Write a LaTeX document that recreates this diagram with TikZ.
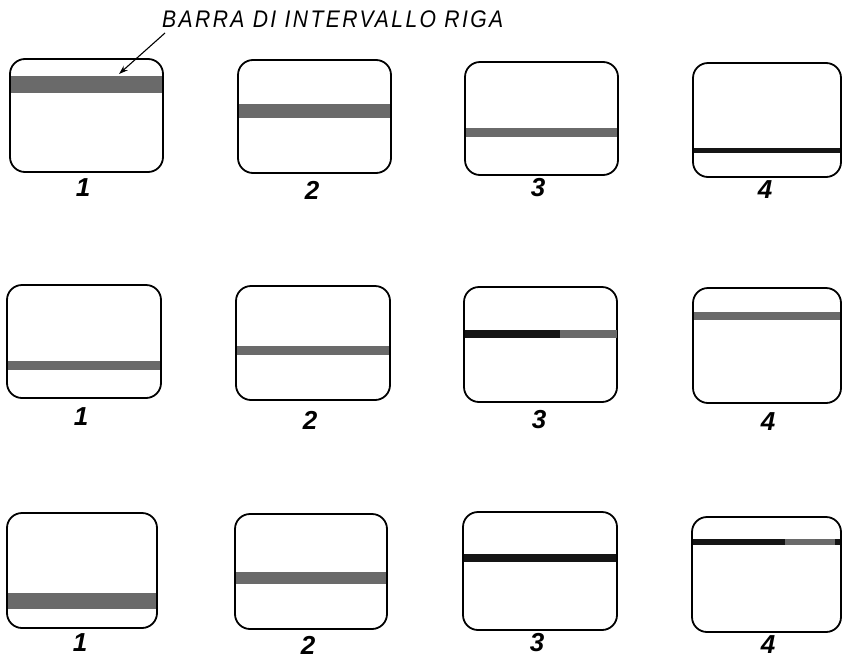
\documentclass[tikz,border=0pt]{standalone}
\usepackage{fontspec}
\setmainfont{Liberation Sans}
\usetikzlibrary{arrows.meta}
\definecolor{bargray}{HTML}{6A6A6A}
\definecolor{barblack}{HTML}{151515}
\tikzset{
  screenbox/.style={draw=black, line width=1.8pt, rounded corners=15pt},
  barfill/.style={fill=#1, draw=none},
  numlabel/.style={font=\fontsize{26}{28}\selectfont\bfseries\itshape, inner sep=0pt},
  titlelabel/.style={font=\fontsize{24}{26}\selectfont\itshape\addfontfeatures{FakeStretch=0.88,LetterSpace=10}, inner sep=0pt},
  pointer/.style={line width=1.1pt, -{Stealth[length=9pt,width=6pt]}}
}
\begin{document}
\begin{tikzpicture}[x=1pt,y=-1pt]
\useasboundingbox (0,0) rectangle (843,659);
% name, x1, y1, x2, y2, bar top, bar bottom, colour, label, label x, label y
\foreach \n/\xa/\ya/\xb/\yb/\bt/\bb/\col/\lab/\lx/\ly in {
  a1/10/59/163/172/76/93/bargray/1/83/188,
  a2/238/60/391/173/104/118/bargray/2/312/190,
  a3/465/62/618/175/128/137/bargray/3/538/188,
  a4/693/63/841/177/148/153/barblack/4/765/190,
  b1/7/285/161/398/361/370/bargray/1/81/417,
  b2/236/286/390/400/346/355/bargray/2/310/420,
  b3/464/287/617/402/330/338/barblack/3/539/420,
  b4/693/288/841/403/312/320/bargray/4/768/422,
  c1/7/513/157/628/593/609/bargray/1/80/643,
  c2/235/514/387/629/572/584/bargray/2/308/645,
  c3/463/512/617/630/554/562/barblack/3/537/643,
  c4/692/517/841/632/539/545/barblack/4/768/645} {
  \fill[barfill=\col] (\xa,\bt) rectangle (\xb,\bb);
  \draw[screenbox] (\xa,\ya) rectangle (\xb,\yb);
  \node[numlabel] (lab\n) at (\lx,\ly) {\lab};
}
% partial gray segments on black bars
\fill[bargray] (560,330) rectangle (617,338);
\fill[bargray] (785,539) rectangle (835,545);
\node[titlelabel, anchor=west] (title) at (162,19) {BARRA DI INTERVALLO RIGA};
\coordinate (tail) at (165,33);
\coordinate (head) at (119,74);
\draw[pointer] (tail) -- (head);
\end{tikzpicture}
\end{document}
